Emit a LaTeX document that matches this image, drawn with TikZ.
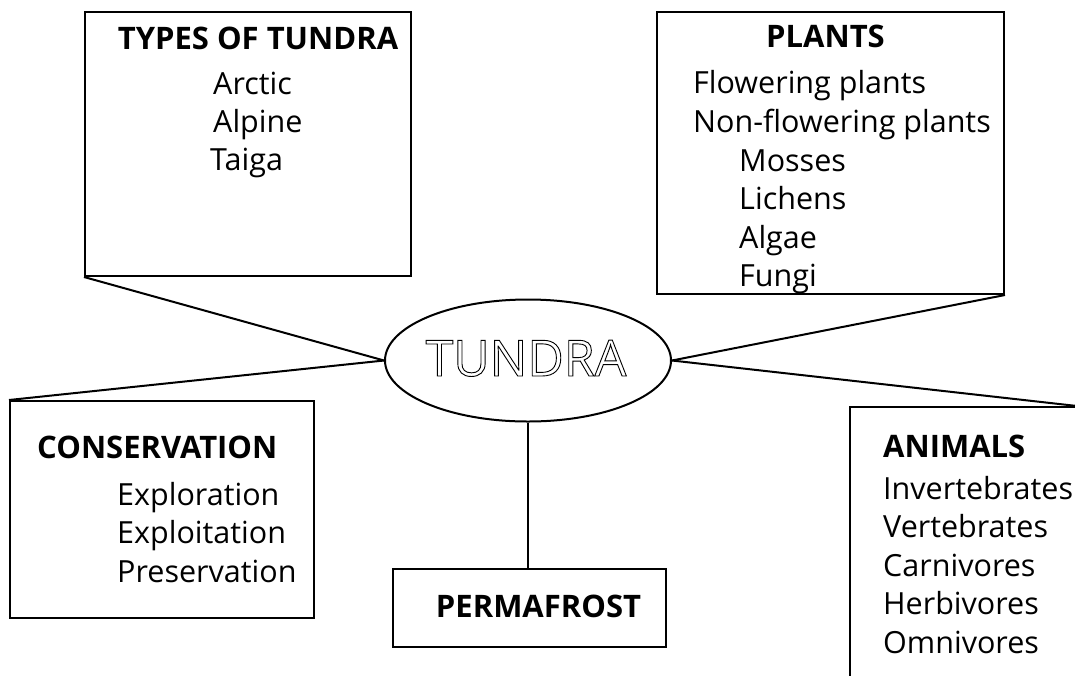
\documentclass[tikz,border=0pt]{standalone}
\usepackage{fontspec}
\setmainfont{Open Sans}
\usetikzlibrary{shapes.geometric}
\newcommand{\hollowtext}[1]{\special{pdf:literal direct 1 Tr 0.9 w}#1\special{pdf:literal direct 0 Tr}}
\begin{document}
\begin{tikzpicture}[x=1pt,y=-1pt,
  boxnode/.style={draw=black, line width=2pt, rectangle, inner sep=0pt, fill=none},
  conn/.style={draw=black, line width=2pt},
  itemtxt/.style={anchor=base west, inner sep=0pt, font=\fontsize{30.5}{36}\selectfont},
  titletxt/.style={anchor=base, inner sep=0pt, font=\fontsize{31}{36}\selectfont\bfseries},
  titlewest/.style={anchor=base west, inner sep=0pt, font=\fontsize{31}{36}\selectfont\bfseries}]
\useasboundingbox (0,0) rectangle (1075,675);
\clip (0,0) rectangle (1075,675);

% boxes
\node[boxnode, minimum width=326pt, minimum height=264pt] (types) at (248,144) {};
\node[boxnode, minimum width=347pt, minimum height=282pt] (plants) at (830.5,153) {};
\node[boxnode, minimum width=304pt, minimum height=217pt] (cons) at (162,509.5) {};
\node[boxnode, minimum width=273pt, minimum height=78pt] (perm) at (529.5,608) {};
\node[boxnode, minimum width=226pt, minimum height=300pt] (animals) at (963,557) {};

% central ellipse
\node[draw=black, line width=2pt, ellipse, minimum width=286pt, minimum height=122pt, inner sep=0pt] (tundra) at (528,360.5) {};
\node[anchor=base, inner sep=0pt, font=\fontsize{50}{54}\selectfont] (tundralabel) at (526,376) {\hollowtext{TUNDRA}};

% connectors
\draw[conn] (types.south west) -- (tundra.west);
\draw[conn] (cons.north west) -- (tundra.west);
\draw[conn] (plants.south east) -- (tundra.east);
\draw[conn] (tundra.east) -- (animals.north east);
\draw[conn] (tundra.south) -- (tundra.south |- perm.north);

% Types of tundra
\node[titletxt] (t0) at (258,49) {TYPES OF TUNDRA};
\node[itemtxt] (t1) at (213,94) {Arctic};
\node[itemtxt] (t2) at (213,132) {Alpine};
\node[itemtxt] (t3) at (210,170) {Taiga};

% Plants
\node[titletxt] (p0) at (825.5,47) {PLANTS};
\node[itemtxt] (p1) at (693,93) {Flowering plants};
\node[itemtxt] (p2) at (693,132) {Non-flowering plants};
\node[itemtxt] (p3) at (739,171) {Mosses};
\node[itemtxt] (p4) at (739,209) {Lichens};
\node[itemtxt] (p5) at (739,248) {Algae};
\node[itemtxt] (p6) at (739,286) {Fungi};

% Conservation
\node[titlewest] (c0) at (37,458) {CONSERVATION};
\node[itemtxt] (c1) at (117,505) {Exploration};
\node[itemtxt] (c2) at (117,543) {Exploitation};
\node[itemtxt] (c3) at (117,582) {Preservation};

% Permafrost
\node[titletxt] (pm) at (538.5,617) {PERMAFROST};

% Animals
\node[titlewest] (a0) at (883,457) {ANIMALS};
\node[itemtxt] (a1) at (883,499) {Invertebrates};
\node[itemtxt] (a2) at (883,537.5) {Vertebrates};
\node[itemtxt] (a3) at (883,576) {Carnivores};
\node[itemtxt] (a4) at (883,614.5) {Herbivores};
\node[itemtxt] (a5) at (883,653) {Omnivores};
\end{tikzpicture}
\end{document}
